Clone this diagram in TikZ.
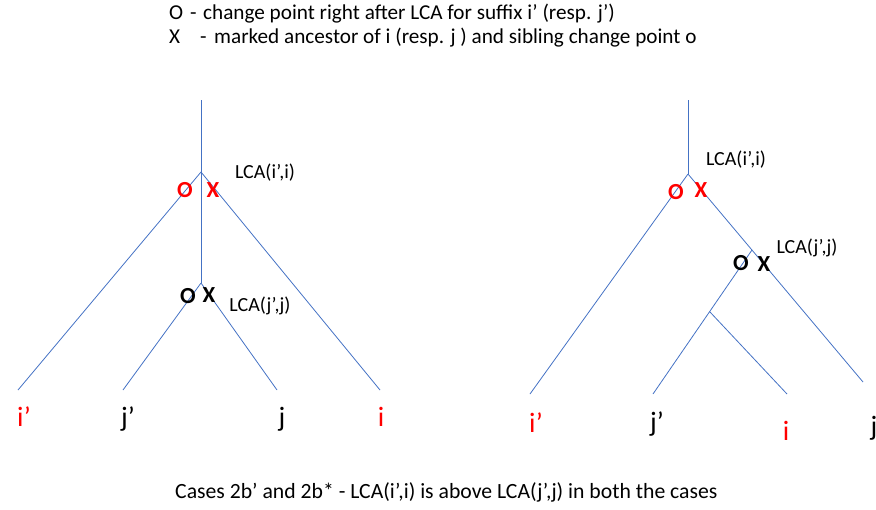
\documentclass[tikz,border=0pt]{standalone}
\usepackage{fontspec}
\setmainfont{Carlito}
\definecolor{edgeblue}{RGB}{68,114,196}
\definecolor{mred}{RGB}{255,0,0}
\tikzset{
  edge/.style={draw=edgeblue, line width=0.8pt},
  leaf/.style={font=\fontsize{28}{30}\selectfont, inner sep=0pt, anchor=base},
  markr/.style={font=\fontsize{23}{25}\selectfont\bfseries, inner sep=0pt, text=mred},
  markb/.style={font=\fontsize{23}{25}\selectfont\bfseries, inner sep=0pt, text=black},
  lca/.style={font=\fontsize{20}{22}\selectfont, inner sep=0pt},
  note/.style={font=\fontsize{21.2}{23}\selectfont, inner sep=0pt, anchor=base west}
}
\begin{document}
\begin{tikzpicture}[x=1pt,y=-1pt]
\useasboundingbox (0,0) rectangle (876,509);
% notes
\node[note] (n1k) at (169,19) {O};
\node[note] (n1d) at (190,19) {-};
\node[note] (n1) at (203,19) {change point right after LCA for suffix i’ (resp. j’)};
\node[note] (n2k) at (169,43) {X};
\node[note] (n2d) at (200,43) {-};
\node[note] (n2) at (214,43) {marked ancestor of i (resp. j ) and sibling change point o};
\node[note, font=\fontsize{21.7}{24}\selectfont] (cap) at (175,498) {Cases 2b’ and 2b* - LCA(i’,i) is above LCA(j’,j) in both the cases};
% left tree
\coordinate (Ltop) at (201,100);
\coordinate (LA) at (201,172);
\coordinate (LB) at (201,283);
\coordinate (Lip) at (18,390);
\coordinate (Li) at (380,390);
\coordinate (Ljp) at (123,390);
\coordinate (Lj) at (277,390);
\draw[edge] (Ltop) -- (LA);
\draw[edge] (LA) -- (Lip);
\draw[edge] (LA) -- (Li);
\draw[edge] (LA) -- (LB);
\draw[edge] (LB) -- (Ljp);
\draw[edge] (LB) -- (Lj);
\node[leaf, text=mred] (lip) at (24,426) {i’};
\node[leaf] (ljp) at (128,426) {j’};
\node[leaf] (lj) at (282,426) {j};
\node[leaf, text=mred] (li) at (381,426) {i};
\node[markr] (lo1) at (185,190) {O};
\node[markr] (lx1) at (213,190) {X};
\node[lca] (llca1) at (265,173) {LCA(i’,i)};
\node[markb] (lo2) at (188,296) {O};
\node[markb] (lx2) at (209,295) {X};
\node[lca] (llca2) at (260,306) {LCA(j’,j)};
% right tree
\coordinate (Rtop) at (688,100);
\coordinate (RA) at (688,174);
\coordinate (RB) at (752,250);
\coordinate (RC) at (710,312);
\coordinate (Rip) at (530,394);
\coordinate (Rj) at (863,382);
\coordinate (Rjp) at (653,394);
\coordinate (Ri) at (787,394);
\draw[edge] (Rtop) -- (RA);
\draw[edge] (RA) -- (Rip);
\draw[edge] (RA) -- (Rj);
\draw[edge] (RB) -- (Rjp);
\draw[edge] (RC) -- (Ri);
\node[leaf, text=mred] (rip) at (536,432) {i’};
\node[leaf] (rjp) at (657,431) {j’};
\node[leaf, text=mred] (ri) at (786,440) {i};
\node[leaf] (rj) at (874,435) {j};
\node[markr] (ro1) at (676,192) {O};
\node[markr] (rx1) at (701,190) {X};
\node[lca] (rlca1) at (736,160) {LCA(i’,i)};
\node[markb] (ro2) at (741,263) {O};
\node[markb] (rx2) at (764,264) {X};
\node[lca] (rlca2) at (807,248) {LCA(j’,j)};
\end{tikzpicture}
\end{document}
